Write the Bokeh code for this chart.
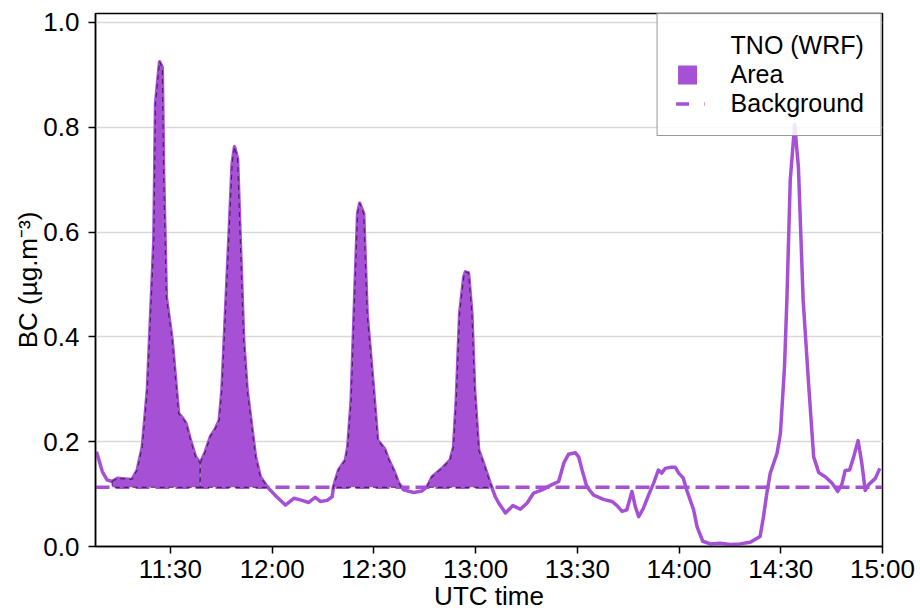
import numpy as np
import pandas as pd
from bokeh.plotting import figure
from bokeh.models import (DatetimeTickFormatter, FixedTicker, Legend,
                          LegendItem, NumeralTickFormatter, Range1d)
from bokeh.embed import file_html
from bokeh.resources import INLINE

# ---------------------------------------------------------------- data
FLIGHT_DATE = "2000-01-01"

times = [
    "11:08:12", "11:09:54", "11:11:18", "11:12:48", "11:14:18", "11:16:42", "11:18:42",
    "11:20:12", "11:21:42", "11:22:36", "11:23:12", "11:25:06", "11:25:36", "11:26:48",
    "11:27:36", "11:28:00", "11:28:48", "11:30:30", "11:32:00", "11:32:24", "11:33:36",
    "11:34:36", "11:35:54", "11:37:24", "11:38:48", "11:40:18", "11:41:48", "11:43:18",
    "11:44:24", "11:45:12", "11:47:12", "11:48:12", "11:48:54", "11:49:48", "11:50:36",
    "11:51:36", "11:52:36", "11:54:06", "11:55:06", "11:56:30", "11:58:30", "12:01:00",
    "12:03:54", "12:06:24", "12:08:18", "12:10:48", "12:12:42", "12:14:12", "12:16:12",
    "12:17:42", "12:18:06", "12:19:36", "12:21:36", "12:22:18", "12:23:18", "12:24:30",
    "12:25:12", "12:25:48", "12:27:00", "12:28:00", "12:29:54", "12:31:06", "12:33:06",
    "12:34:24", "12:35:48", "12:37:18", "12:38:48", "12:41:42", "12:44:12", "12:45:42",
    "12:47:12", "12:50:06", "12:52:30", "12:53:30", "12:54:18", "12:55:18", "12:56:30",
    "12:57:00", "12:57:54", "12:58:54", "12:59:42", "13:00:54", "13:02:18", "13:04:18",
    "13:05:48", "13:06:48", "13:08:48", "13:11:00", "13:13:12", "13:15:12", "13:17:06",
    "13:19:36", "13:22:30", "13:24:30", "13:26:00", "13:27:24", "13:29:24", "13:30:24",
    "13:31:24", "13:32:48", "13:34:48", "13:37:42", "13:40:12", "13:41:42", "13:43:12",
    "13:44:36", "13:46:06", "13:47:06", "13:48:06", "13:49:30", "13:51:00", "13:52:30",
    "13:53:54", "13:54:54", "13:55:54", "13:57:24", "13:58:54", "13:59:54", "14:01:12",
    "14:02:24", "14:04:18", "14:05:18", "14:07:00", "14:09:12", "14:12:06", "14:15:06",
    "14:18:00", "14:21:00", "14:23:54", "14:24:54", "14:25:54", "14:26:54", "14:28:54",
    "14:29:54", "14:31:06", "14:31:48", "14:32:48", "14:34:06", "14:35:12", "14:36:36",
    "14:38:12", "14:39:42", "14:41:12", "14:43:06", "14:45:06", "14:46:48", "14:48:00",
    "14:49:00", "14:50:18", "14:51:30", "14:52:48", "14:53:54", "14:54:54", "14:55:54",
    "14:57:54", "14:59:12",
]

bc = [
    0.181, 0.143, 0.127, 0.124, 0.130, 0.129, 0.128,
    0.146, 0.190, 0.255, 0.300, 0.584, 0.845, 0.925,
    0.914, 0.710, 0.475, 0.394, 0.283, 0.254, 0.245,
    0.235, 0.203, 0.171, 0.159, 0.181, 0.210, 0.225,
    0.241, 0.300, 0.584, 0.731, 0.763, 0.740, 0.584,
    0.394, 0.300, 0.222, 0.171, 0.133, 0.114, 0.097,
    0.079, 0.092, 0.089, 0.084, 0.094, 0.086, 0.088,
    0.095, 0.114, 0.146, 0.165, 0.190, 0.279, 0.508,
    0.635, 0.655, 0.635, 0.445, 0.300, 0.203, 0.187,
    0.165, 0.146, 0.121, 0.108, 0.103, 0.106, 0.114,
    0.133, 0.149, 0.165, 0.190, 0.279, 0.445, 0.514,
    0.524, 0.522, 0.445, 0.300, 0.184, 0.159, 0.121,
    0.095, 0.083, 0.064, 0.078, 0.071, 0.083, 0.102,
    0.108, 0.118, 0.124, 0.159, 0.176, 0.179, 0.171,
    0.146, 0.114, 0.098, 0.090, 0.086, 0.078, 0.067,
    0.070, 0.105, 0.076, 0.057, 0.073, 0.098, 0.121,
    0.146, 0.140, 0.149, 0.151, 0.151, 0.140, 0.131,
    0.105, 0.070, 0.038, 0.010, 0.005, 0.006, 0.004,
    0.005, 0.008, 0.019, 0.057, 0.102, 0.140, 0.178,
    0.216, 0.343, 0.470, 0.700, 0.805, 0.724, 0.470,
    0.311, 0.171, 0.141, 0.133, 0.121, 0.105, 0.118,
    0.145, 0.146, 0.171, 0.202, 0.159, 0.107, 0.118,
    0.130, 0.149,
]

background = 0.113

# plume windows whose excess over the background is shaded
plume_start = ["11:12:48", "11:38:48", "12:18:00", "12:45:42"]
plume_end = ["11:38:48", "11:58:30", "12:37:48", "13:04:48"]

x_start, x_end = "11:07:54", "15:00:00"
x_tick_times = ["11:30", "12:00", "12:30", "13:00", "13:30", "14:00", "14:30", "15:00"]
y_ticks = [0.0, 0.2, 0.4, 0.6, 0.8, 1.0]

# ---------------------------------------------------------------- style
PURPLE = "#A650D6"
FONT = "Liberation Sans"
EPOCH = pd.Timestamp("1970-01-01")


def to_ms(hms):
    stamps = pd.to_datetime([f"{FLIGHT_DATE} {h}" for h in hms])
    return ((stamps - EPOCH) / pd.Timedelta(milliseconds=1)).to_numpy(dtype=float)


t_ms = to_ms(times)
bc_arr = np.asarray(bc, dtype=float)
x0_ms, x1_ms = to_ms([x_start, x_end])

# closed polygons: curve across each window, then back along the background
area_xs, area_ys = [], []
for s, e in zip(to_ms(plume_start), to_ms(plume_end)):
    inside = (t_ms > s) & (t_ms < e)
    px = np.concatenate([[s], t_ms[inside], [e, e, s]])
    py = np.concatenate([[np.interp(s, t_ms, bc_arr)], bc_arr[inside],
                         [np.interp(e, t_ms, bc_arr), background, background]])
    area_xs.append(px.tolist())
    area_ys.append(py.tolist())

p = figure(width=920, height=613, x_axis_type="datetime",
           x_range=Range1d(x0_ms, x1_ms), y_range=Range1d(0, 1.017),
           output_backend="svg", toolbar_location=None, title=None,
           min_border_left=95, min_border_right=38, min_border_top=13,
           min_border_bottom=66)

p.background_fill_color = "white"
p.border_fill_color = "white"
p.outline_line_color = "black"
p.outline_line_width = 1.5
p.outline_line_alpha = 1.0

# background level
bg_r = p.line(x=[x0_ms, x1_ms], y=[background, background], line_color=PURPLE,
              line_width=3.5, line_dash="14 6")

# BC time series
p.line(x=t_ms, y=bc_arr, line_color=PURPLE, line_width=3.5, line_join="round")

# shaded plume areas
p.patches(xs=area_xs, ys=area_ys, fill_color=PURPLE, fill_alpha=1.0,
          line_color="black", line_alpha=0.55, line_width=1.2, line_dash="5 4")

# legend-only renderers (a single NaN point keeps them off the plot area)
nan_pt = [np.nan]
head_r = p.line(x=nan_pt, y=nan_pt, line_alpha=0)
area_key = p.line(x=nan_pt, y=nan_pt, line_color=PURPLE, line_width=19,
                  line_cap="butt", line_dash="0 3 19 100")
bg_key = p.line(x=nan_pt, y=nan_pt, line_color=PURPLE, line_width=3.5,
                line_dash="0 1 13 15 13 20")

legend = Legend(
    items=[LegendItem(label="TNO (WRF)", renderers=[head_r]),
           LegendItem(label="Area", renderers=[area_key]),
           LegendItem(label="Background", renderers=[bg_key])],
    location="top_right", margin=0, padding=17, spacing=0,
    glyph_width=30, glyph_height=29, label_height=29, label_width=128,
    label_standoff=26, label_text_font=FONT, label_text_font_size="25px",
    label_text_color="black", border_line_color="#333333", border_line_width=1,
    background_fill_color="white", background_fill_alpha=0.85,
)
p.add_layout(legend)

# axes
xt = FixedTicker(ticks=to_ms(x_tick_times).tolist())
yt = FixedTicker(ticks=y_ticks)
p.xaxis.ticker = xt
p.yaxis.ticker = yt
p.ygrid.ticker = yt
p.xaxis.formatter = DatetimeTickFormatter(minutes="%H:%M", hourmin="%H:%M",
                                          hours="%H:%M", minsec="%H:%M")
p.yaxis.formatter = NumeralTickFormatter(format="0.0")

for ax in (p.xaxis[0], p.yaxis[0]):
    ax.axis_line_color = "black"
    ax.axis_line_width = 1.5
    ax.major_tick_line_color = "black"
    ax.major_tick_line_width = 1.5
    ax.major_tick_in = 0
    ax.major_tick_out = 7
    ax.minor_tick_line_color = None
    ax.major_label_text_font = FONT
    ax.major_label_text_font_size = "26px"
    ax.major_label_text_color = "black"
    ax.axis_label_text_font = FONT
    ax.axis_label_text_font_size = "26px"
    ax.axis_label_text_font_style = "normal"
    ax.axis_label_text_color = "black"

p.xaxis.major_label_standoff = 0
p.yaxis.major_label_standoff = 9
p.xaxis.axis_label = "UTC time"
p.xaxis.axis_label_standoff = -6
p.yaxis.axis_label = "BC (µg.m⁻³)"
p.yaxis.axis_label_standoff = -3

p.xgrid.visible = False
p.ygrid.grid_line_color = "#D9D9D9"
p.ygrid.grid_line_width = 1.5

open("out.html", "w").write(file_html(p, INLINE))
